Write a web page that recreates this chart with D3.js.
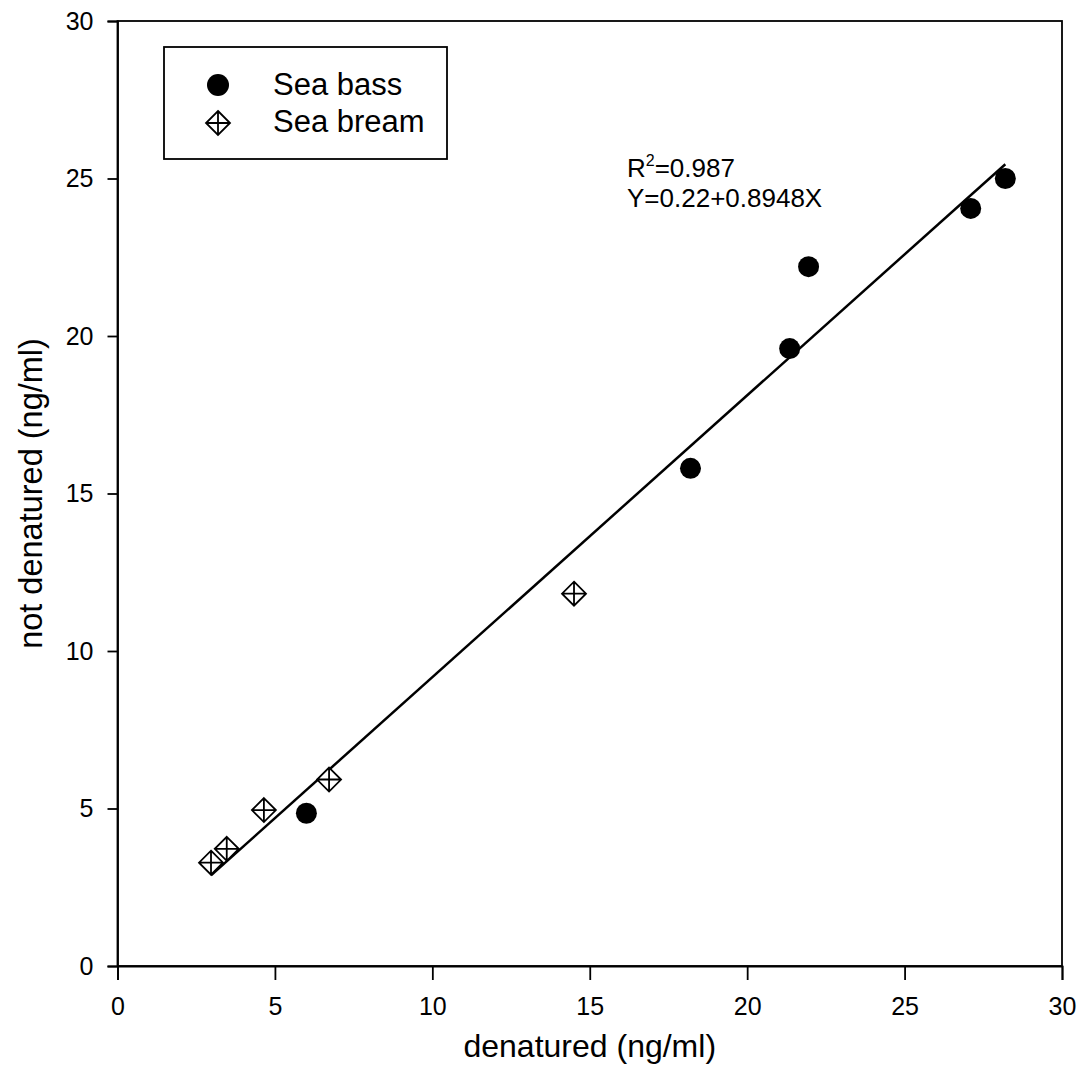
<!DOCTYPE html>
<html><head><meta charset="utf-8">
<script src="https://cdn.jsdelivr.net/npm/d3@7"></script>
<style>body{margin:0;background:#fff}svg{display:block}text{font-family:"Liberation Sans",Arial,sans-serif;fill:#000}</style>
</head><body><svg id="c" width="1083" height="1084"></svg>
<script>
const bassX = [6.0, 18.2, 21.35, 21.95, 27.1, 28.2];
const bassY = [4.85, 15.8, 19.6, 22.2, 24.05, 25.0];
const breamX = [2.97, 3.47, 4.65, 6.72, 14.5];
const breamY = [3.28, 3.72, 4.95, 5.92, 11.82];
const xTicks = [0, 5, 10, 15, 20, 25, 30];
const yTicks = [0, 5, 10, 15, 20, 25, 30];
const fitIntercept = 0.22, fitSlope = 0.8948;
const seriesNames = ["Sea bass", "Sea bream"];
const xTitle = "denatured (ng/ml)", yTitle = "not denatured (ng/ml)";

const svg = d3.select("#c");
const x = d3.scaleLinear().domain([0, 30]).range([117.5, 1062]);
const y = d3.scaleLinear().domain([0, 30]).range([966, 21]);

// frame
svg.append("rect").attr("x", x(0)).attr("y", y(30)).attr("width", x(30) - x(0)).attr("height", y(0) - y(30))
  .attr("fill", "none").attr("stroke", "#000").attr("stroke-width", 1.8);

const xa = svg.append("g").attr("transform", `translate(0,${y(0)})`)
  .call(d3.axisBottom(x).tickValues(xTicks).tickSize(14).tickPadding(17).tickFormat(d3.format("d")));
const ya = svg.append("g").attr("transform", `translate(${x(0)},0)`)
  .call(d3.axisLeft(y).tickValues(yTicks).tickSize(10).tickPadding(14).tickFormat(d3.format("d")));
[xa, ya].forEach(g => {
  g.select(".domain").attr("stroke", "#000").attr("stroke-width", 1.8);
  g.selectAll(".tick line").attr("stroke", "#000").attr("stroke-width", 1.8);
  g.selectAll(".tick text").attr("font-size", 25).attr("font-family", "Liberation Sans, Arial, sans-serif").attr("fill", "#000");
});

// regression line
const xmin = d3.min(breamX.concat(bassX)), xmax = d3.max(breamX.concat(bassX));
svg.append("line").attr("x1", x(xmin)).attr("y1", y(fitIntercept + fitSlope * xmin))
  .attr("x2", x(xmax)).attr("y2", y(fitIntercept + fitSlope * xmax))
  .attr("stroke", "#000").attr("stroke-width", 2.5);

function diamond(g, cx, cy, h) {
  g.append("path").attr("d", `M${cx},${cy - h}L${cx + h},${cy}L${cx},${cy + h}L${cx - h},${cy}Z M${cx - h},${cy}H${cx + h} M${cx},${cy - h}V${cy + h}`)
    .attr("fill", "#fff").attr("stroke", "#000").attr("stroke-width", 1.8);
}
const pts = svg.append("g");
breamX.forEach((d, i) => diamond(pts, x(d), y(breamY[i]), 12));
bassX.forEach((d, i) => pts.append("circle").attr("cx", x(d)).attr("cy", y(bassY[i])).attr("r", 10.5).attr("fill", "#000"));

// legend
svg.append("rect").attr("x", 164).attr("y", 47).attr("width", 283).attr("height", 112)
  .attr("fill", "#fff").attr("stroke", "#000").attr("stroke-width", 1.8);
svg.append("circle").attr("cx", 218).attr("cy", 85).attr("r", 11).attr("fill", "#000");
diamond(svg, 218, 123, 12);
svg.append("text").attr("x", 273).attr("y", 95).attr("font-size", 31).text(seriesNames[0]);
svg.append("text").attr("x", 273).attr("y", 132).attr("font-size", 31).text(seriesNames[1]);

// equation
const eq1 = svg.append("text").attr("x", 627).attr("y", 177).attr("font-size", 26);
eq1.append("tspan").text("R");
eq1.append("tspan").attr("font-size", 16).attr("dy", -11).text("2");
eq1.append("tspan").attr("dy", 11).text("=0.987");
svg.append("text").attr("x", 627).attr("y", 207).attr("font-size", 26).text(`Y=${fitIntercept}+${fitSlope}X`);

// axis titles
svg.append("text").attr("x", (x(0) + x(30)) / 2).attr("y", 1057).attr("text-anchor", "middle").attr("font-size", 32).text(xTitle);
svg.append("text").attr("transform", `translate(42,${(y(0) + y(30)) / 2}) rotate(-90)`).attr("text-anchor", "middle").attr("font-size", 32.5).text(yTitle);
</script></body></html>
